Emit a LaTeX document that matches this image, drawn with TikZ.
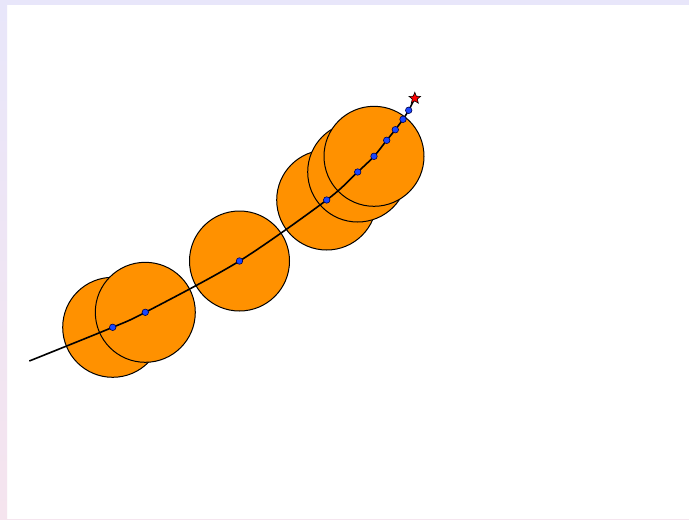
\documentclass[tikz,border=0pt]{standalone}
\usetikzlibrary{shapes.geometric}
\definecolor{disk}{RGB}{255,145,0}
\definecolor{dotblue}{RGB}{25,70,255}
\definecolor{lav}{RGB}{232,230,250}
\definecolor{pinkish}{RGB}{245,228,238}
\tikzset{
  disc/.style={circle, draw=black, line width=1pt, fill=disk, minimum size=100pt, inner sep=0pt},
  bead/.style={circle, draw=black!70!blue, line width=0.6pt, fill=dotblue, minimum size=6.5pt, inner sep=0pt},
  goal/.style={star, star points=5, star point ratio=2.3, draw=black, line width=0.6pt, fill=red, minimum size=12pt, inner sep=0pt},
}
\begin{document}
\begin{tikzpicture}[x=1pt,y=-1pt]
\useasboundingbox (0,0) rectangle (689,520);
\fill[white] (0,0) rectangle (689,520);
\shade[top color=lav, bottom color=pinkish] (0,0) rectangle (7,520);
\fill[lav] (0,0) rectangle (689,5);
\fill[pinkish] (7,519) rectangle (689,520);
% discs
\node[disc] (c1) at (112.7,327.3) {};
\node[disc] (c2) at (145.3,312.3) {};
\node[disc] (c3) at (239.5,261) {};
\node[disc] (c4) at (326.7,200) {};
\node[disc] (c5) at (357.7,172) {};
\node[disc] (c6) at (374,156.3) {};
% path
\coordinate (s) at (29.3,361);
\coordinate (p7) at (386.7,140.3);
\coordinate (p8) at (395.3,129.7);
\coordinate (p9) at (403,119.3);
\coordinate (p10) at (408.7,110.3);
\coordinate (g) at (414.8,98.3);
\draw[line width=1.6pt] plot[smooth, tension=0.5] coordinates {(s) (c1.center) (c2.center) (c3.center) (c4.center) (c5.center) (c6.center) (p7) (p8) (p9) (p10) (g)};
\foreach \n in {c1,c2,c3,c4,c5,c6,p7,p8,p9,p10} \node[bead] (b\n) at (\n) {};
\node[goal] (gs) at (g) {};
\end{tikzpicture}
\end{document}
